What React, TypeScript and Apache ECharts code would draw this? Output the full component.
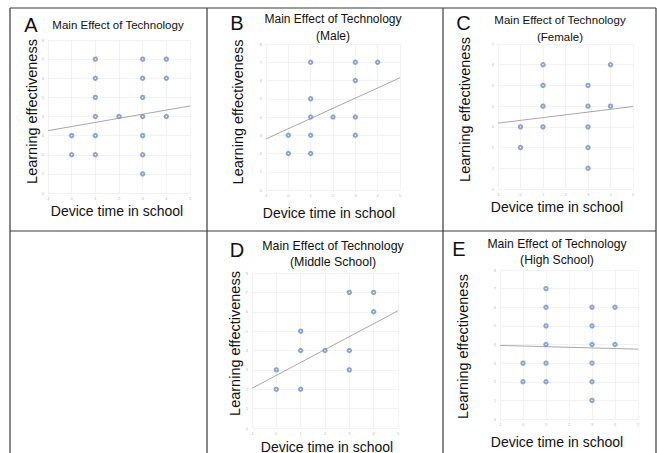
import React, { useEffect, useRef } from "react";
import * as echarts from "echarts";

// Tick labels
const xTicks = [-1, 0, 1, 2, 3, 4, 5];
const yTicks8 = [0, 1, 2, 3, 4, 5, 6, 7, 8];
const yTicks7 = [0, 1, 2, 3, 4, 5, 6, 7];

// Panel A: all students
const pointsA = [
  [0, 3], [0, 2],
  [1, 7], [1, 6], [1, 5], [1, 4], [1, 3], [1, 2],
  [2, 4],
  [3, 7], [3, 6], [3, 5], [3, 4], [3, 3], [3, 2], [3, 1],
  [4, 7], [4, 6], [4, 4],
];
const fitA = [[-1, 3.26], [5, 4.55]];

// Panel B: male
const pointsB = [
  [0, 3], [0, 2],
  [1, 7], [1, 5], [1, 4], [1, 3], [1, 2],
  [2, 4],
  [3, 7], [3, 6], [3, 4], [3, 3],
  [4, 7],
];
const fitB = [[-1, 2.8], [5, 6.15]];

// Panel C: female
const pointsC = [
  [0, 3], [0, 2],
  [1, 6], [1, 5], [1, 4], [1, 3],
  [3, 5], [3, 4], [3, 3], [3, 2], [3, 1],
  [4, 6], [4, 4],
];
const fitC = [[-1, 3.18], [5, 3.98]];

// Panel D: middle school
const pointsD = [
  [0, 3], [0, 2],
  [1, 5], [1, 4], [1, 2],
  [2, 4],
  [3, 7], [3, 4], [3, 3],
  [4, 7], [4, 6],
];
const fitD = [[-1, 2.05], [5, 6.05]];

// Panel E: high school
const pointsE = [
  [0, 3], [0, 2],
  [1, 7], [1, 6], [1, 5], [1, 4], [1, 3], [1, 2],
  [3, 6], [3, 5], [3, 4], [3, 3], [3, 2], [3, 1],
  [4, 6], [4, 4],
];
const fitE = [[-1, 3.95], [5, 3.75]];

const panelLetters = ["A", "B", "C", "D", "E"];
const titleLine1 = "Main Effect of Technology";
const titleLine2 = ["", "(Male)", "(Female)", "(Middle School)", "(High School)"];
const xName = "Device time in school";
const yName = "Learning effectiveness";

const FONT = "Liberation Sans, Arial, Helvetica, sans-serif";
const POINT_COLOR = "#6d8ec8";
const FIT_COLOR = "#a8a8a8";
const GRID_COLOR = "#efefef";
const TICK_COLOR = "#b8b8b8";
const BORDER_COLOR = "#3a3a3a";

export default function App() {
  const ref = useRef<HTMLDivElement>(null);

  useEffect(() => {
    if (!ref.current) return;
    const chart = echarts.init(ref.current, undefined, { renderer: "svg" });

    const panels = [
      { pts: pointsA, fit: fitA, yMax: 8, grid: { left: 48, top: 40, width: 142, height: 153 } },
      { pts: pointsB, fit: fitB, yMax: 8, grid: { left: 266, top: 44, width: 134, height: 146 } },
      { pts: pointsC, fit: fitC, yMax: 7, grid: { left: 498, top: 44, width: 135, height: 145 } },
      { pts: pointsD, fit: fitD, yMax: 8, grid: { left: 252, top: 273, width: 146, height: 155 } },
      { pts: pointsE, fit: fitE, yMax: 8, grid: { left: 500, top: 270, width: 138, height: 149 } },
    ];

    const grids = panels.map((p) => ({
      ...p.grid,
      containLabel: false,
      outerBoundsMode: "none",
    }));

    const xAxes = panels.map((p, i) => ({
      type: "value",
      gridIndex: i,
      min: xTicks[0],
      max: xTicks[xTicks.length - 1],
      interval: 1,
      axisLine: { show: false },
      axisTick: { show: false },
      axisLabel: { fontSize: 4, color: TICK_COLOR, margin: 3, fontFamily: FONT },
      splitLine: { show: true, lineStyle: { color: GRID_COLOR, width: 0.8 } },
    }));

    const yAxes = panels.map((p, i) => {
      const ticks = p.yMax === 7 ? yTicks7 : yTicks8;
      return {
        type: "value",
        gridIndex: i,
        min: ticks[0],
        max: ticks[ticks.length - 1],
        interval: 1,
        axisLine: { show: false },
        axisTick: { show: false },
        axisLabel: { fontSize: 4, color: TICK_COLOR, margin: 4, fontFamily: FONT },
        splitLine: { show: true, lineStyle: { color: GRID_COLOR, width: 0.8 } },
      };
    });

    const series: any[] = [];
    panels.forEach((p, i) => {
      series.push({
        type: "line",
        xAxisIndex: i,
        yAxisIndex: i,
        data: p.fit,
        showSymbol: false,
        symbol: "none",
        lineStyle: { color: FIT_COLOR, width: 1 },
        z: 2,
      });
      series.push({
        type: "scatter",
        xAxisIndex: i,
        yAxisIndex: i,
        data: p.pts,
        symbol: "emptyCircle",
        symbolSize: 3.4,
        itemStyle: { color: POINT_COLOR, borderColor: POINT_COLOR, borderWidth: 0.9 },
        z: 3,
      });
    });

    // Text layout per panel
    const textLayout = [
      { letter: [31, 25], title: [118, 25], titleSize: 11.5, yLab: [32, 111.5], xLab: [117, 211] },
      { letter: [237, 22.5], title: [333, 19], titleSize: 12, yLab: [238, 112], xLab: [329, 213] },
      { letter: [463.5, 22.5], title: [560, 20], titleSize: 11.5, yLab: [465, 109.5], xLab: [557, 207] },
      { letter: [237, 249.5], title: [333, 245.5], titleSize: 12.4, yLab: [235, 343.5], xLab: [327, 446.5] },
      { letter: [459, 248.5], title: [557, 243.5], titleSize: 12.2, yLab: [463, 346.5], xLab: [557, 442] },
    ];

    const graphics: any[] = [];
    textLayout.forEach((t, i) => {
      graphics.push({
        type: "text",
        x: t.letter[0],
        y: t.letter[1],
        style: { text: panelLetters[i], fontSize: 20, fontFamily: FONT, fill: "#111", align: "center", verticalAlign: "middle" },
      });
      graphics.push({
        type: "text",
        x: t.title[0],
        y: t.title[1],
        style: { text: titleLine1, fontSize: t.titleSize, fontFamily: FONT, fill: "#111", align: "center", verticalAlign: "middle" },
      });
      if (titleLine2[i]) {
        graphics.push({
          type: "text",
          x: t.title[0],
          y: t.title[1] + 16.5,
          style: { text: titleLine2[i], fontSize: t.titleSize, fontFamily: FONT, fill: "#111", align: "center", verticalAlign: "middle" },
        });
      }
      graphics.push({
        type: "text",
        x: t.yLab[0],
        y: t.yLab[1],
        rotation: Math.PI / 2,
        style: { text: yName, fontSize: 14.5, fontFamily: FONT, fill: "#111", align: "center", verticalAlign: "middle" },
      });
      graphics.push({
        type: "text",
        x: t.xLab[0],
        y: t.xLab[1],
        style: { text: xName, fontSize: 14, fontFamily: FONT, fill: "#111", align: "center", verticalAlign: "middle" },
      });
    });

    const border = (x1: number, y1: number, x2: number, y2: number) => ({
      type: "line",
      shape: { x1, y1, x2, y2 },
      style: { stroke: BORDER_COLOR, lineWidth: 1.2 },
      z: 100,
    });
    graphics.push(border(10, 8, 656, 8));
    graphics.push(border(10, 231, 656, 231));
    graphics.push(border(10, 8, 10, 453));
    graphics.push(border(207, 8, 207, 453));
    graphics.push(border(443, 8, 443, 453));
    graphics.push(border(656, 8, 656, 453));

    chart.setOption({
      animation: false,
      backgroundColor: "#ffffff",
      grid: grids,
      xAxis: xAxes,
      yAxis: yAxes,
      series,
      graphic: graphics,
    });

    return () => chart.dispose();
  }, []);

  return (
    <div
      ref={ref}
      style={{ position: "absolute", left: 0, top: 0, width: 659, height: 453 }}
    />
  );
}
